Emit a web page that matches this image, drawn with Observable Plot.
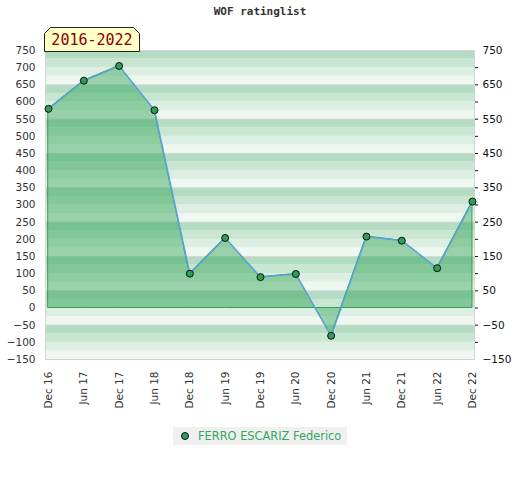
<!DOCTYPE html>
<html><head><meta charset="utf-8">
<script src="https://cdn.jsdelivr.net/npm/d3@7"></script>
<script src="https://cdn.jsdelivr.net/npm/@observablehq/plot@0.6"></script>
<style>
body{margin:0;background:#fff;}
#wrap{position:relative;width:520px;height:480px;overflow:hidden;}
#chart{position:absolute;left:0;top:0;}
#title{position:absolute;left:0;top:5px;width:520px;text-align:center;font:bold 11px "DejaVu Sans Mono",monospace;color:#333;}
#yearbox{position:absolute;left:44px;top:27px;}
#legend{position:absolute;left:173px;top:427px;width:174px;height:18px;background:#f0f0f0;font:11.4px "DejaVu Sans",sans-serif;color:#34a85c;line-height:18px;white-space:nowrap;}
#legend svg{position:absolute;left:7px;top:5px;}
#legend span{position:absolute;left:25px;top:0;}
</style></head><body>
<div id="wrap">
  <div id="chart"></div>
  <div id="title">WOF ratinglist</div>
  <svg id="yearbox" width="98" height="25">
    <polygon points="0.5,24.5 0.5,6.5 6.5,0.5 89.5,0.5 95.5,6.5 95.5,24.5" fill="#ffffc8" stroke="#222" stroke-width="1"/>
    <text x="48" y="18" text-anchor="middle" font-family="DejaVu Sans Mono, monospace" font-size="15" fill="#8b0000">2016-2022</text>
  </svg>
  <div id="legend">
    <svg width="10" height="10"><circle cx="5" cy="4" r="3.5" fill="#2e9e55" stroke="#111" stroke-width="1"/></svg>
    <span>FERRO ESCARIZ Federico</span>
  </div>
</div>
<script>
const periods = ["Dec 16","Jun 17","Dec 17","Jun 18","Dec 18","Jun 19","Dec 19","Jun 20","Dec 20","Jun 21","Dec 21","Jun 22","Dec 22"];
const ratings = [580, 662, 705, 576, 100, 204, 90, 99, -81, 208, 196, 116, 310];
const leftTicks = [-150,-100,-50,0,50,100,150,200,250,300,350,400,450,500,550,600,650,700,750];
const rightLabels = [-150,-50,50,150,250,350,450,550,650,750];
const gridLines = [-150,-50,50,150,250,350,450,550,650];
const bandColors = ["#eff7f1","#dcefe2","#c9e6d2","#b3dcc3"];
const bandStep = 25;
const yMin = -150, yMax = 750;

const data = periods.map((p, i) => ({i, period: p, rating: ratings[i]}));
const bands = [];
for (let v = yMin, k = 0; v < yMax; v += bandStep, k++) {
  bands.push({y1: v, y2: v + bandStep, color: bandColors[k % 4]});
}

const plot = Plot.plot({
  width: 520,
  height: 480,
  marginTop: 50,
  marginBottom: 121,
  marginLeft: 45,
  marginRight: 46,
  style: {fontFamily: "DejaVu Sans, sans-serif", fontSize: "10.5px", color: "#333", background: "transparent"},
  x: {domain: [-0.085, 12.057], axis: null},
  y: {domain: [yMin, yMax], axis: null},
  marks: [
    Plot.rect(bands, {x1: -0.085, x2: 12.057, y1: "y1", y2: "y2", fill: "color"}),
    Plot.ruleY(gridLines, {stroke: "#d8d8d8", strokeWidth: 1}),
    Plot.frame({stroke: "#d4d4d4"}),
    Plot.areaY(data, {x: "i", y1: 0, y2: "rating", fill: "rgb(46,162,84)", fillOpacity: 0.45, stroke: "#2ea254", strokeWidth: 1}),
    Plot.lineY(data, {x: "i", y: "rating", stroke: "#5ea2dc", strokeWidth: 1.5}),
    Plot.dot(data, {x: "i", y: "rating", r: 3.5, fill: "#2e9e55", stroke: "#111", strokeWidth: 1}),
    Plot.axisY(leftTicks, {anchor: "left", tickSize: 0, tickPadding: 10, fill: "#333", label: null}),
    Plot.axisY(leftTicks.filter(v => v > yMin && v < yMax), {anchor: "right", tickSize: 3, tickFormat: () => "", stroke: "#111", label: null}),
    Plot.axisY(rightLabels, {anchor: "right", tickSize: 0, tickPadding: 8, fill: "#111", label: null}),
    Plot.axisX(data.map(d => d.i), {anchor: "bottom", tickSize: 0, tickPadding: 12, tickRotate: -90, tickFormat: i => periods[i], fill: "#333", label: null})
  ]
});
document.getElementById("chart").appendChild(plot);
</script>
</body></html>
